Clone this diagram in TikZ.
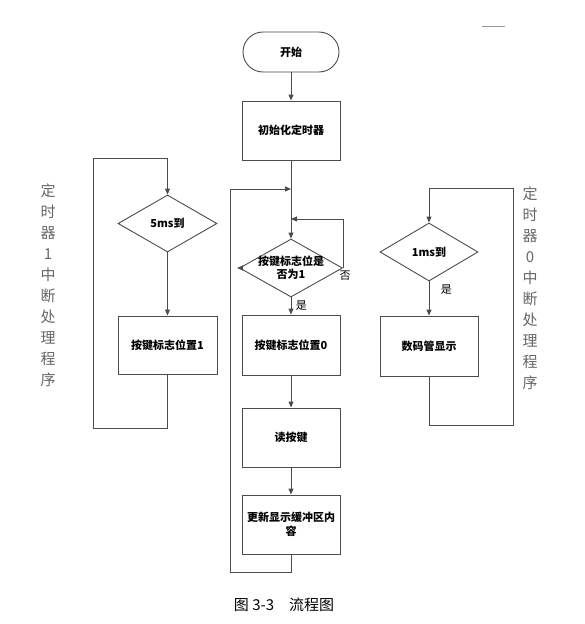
\documentclass[tikz,border=0pt]{standalone}
\usepackage{fontspec}
\setmainfont{Noto Sans CJK SC}
\usetikzlibrary{arrows.meta,shapes.geometric,shapes.misc}

\begin{document}
\begin{tikzpicture}[x=1pt,y=-1pt,
	flow/.style={draw=black!70,line width=0.9pt},
	arr/.style={flow,-{Triangle[length=6pt,width=5pt]}},
	box/.style={draw=black!70,line width=0.9pt,minimum width=98pt,minimum height=59pt,inner sep=1pt,align=center,font=\fontsize{11}{14}\selectfont\bfseries},
	dia/.style={diamond,draw=black!70,line width=0.9pt,minimum width=#1,minimum height=58pt,inner sep=0pt},
	side/.style={text=black!60,align=center,font=\fontsize{15}{21}\selectfont}]
		\useasboundingbox (0,0) rectangle (584,624);% size of the page
		\draw[black!40,line width=0.6pt] (482,26) -- (505,26);
		% main loop
		\node[box,rounded rectangle,minimum height=40pt] (start) at (291,52) {开始};
		\node[box] (init) at (291,130.5) {初始化定时器};
		\node[dia=103pt,label={[font=\fontsize{11}{13}\selectfont\bfseries,align=center]center:按键标志位是\\否为1}] (key) at (291,268) {};
		\node[box,minimum height=60pt] (clr) at (291,345) {按键标志位置0};
		\node[box] (read) at (291,437.5) {读按键};
		\node[box] (upd) at (291,524.5) {更新显示缓冲区内\\容};
		\coordinate (jloop) at (291,189);
		\coordinate (jwait) at (291,219);
		\coordinate (lbot) at (230,572);
		\coordinate (kout) at (237,268);
		\draw[arr] (start.south) -- (init.north);
		\draw[flow] (init.south) -- (jwait);
		\draw[arr] (jwait) -- (key.north);
		\draw[arr] (upd.south) |- (lbot) |- (jloop);
		\draw[arr] (key.east) |- (jwait);
		\draw[arr] (key.west) -- (kout);
		\draw[arr] (key.south) -- node[right=1pt,pos=0.45,font=\fontsize{11}{13}\selectfont] {是} (clr.north);
		\node[font=\fontsize{11}{13}\selectfont] (no) at (345,276) {否};
		\draw[arr] (clr) -- (read);
		\draw[arr] (read) -- (upd);
		% timer 1
		\node[dia=99pt,minimum height=57pt,label={[font=\fontsize{11}{13}\selectfont\bfseries]center:5ms到}] (t5) at (167.5,223.5) {};
		\node[box,minimum width=99pt,minimum height=58pt] (set) at (167.5,345) {按键标志位置1};
		\coordinate (ll) at (93,428);
		\coordinate (lt) at (93,158);
		\draw[arr] (t5.south) -- (set.north);
		\draw[arr] (set.south) |- (ll) -- (lt) -| (t5.north);
		% timer 0
		\node[dia=98pt,label={[font=\fontsize{11}{13}\selectfont\bfseries]center:1ms到}] (t1) at (429,252) {};
		\node[box,minimum height=60pt] (disp) at (429,346) {数码管显示};
		\coordinate (rl) at (513,425);
		\coordinate (rt) at (513,188);
		\draw[arr] (t1.south) -- node[right=8pt,pos=0.25,font=\fontsize{11}{13}\selectfont] {是} (disp.north);
		\draw[arr] (disp.south) |- (rl) -- (rt) -| (t1.north);
		% side texts
		\node[side] (lab1) at (48,285) {定\\时\\器\\1\\中\\断\\处\\理\\程\\序};
		\node[side] (lab0) at (530,288) {定\\时\\器\\0\\中\\断\\处\\理\\程\\序};
		\node[font=\fontsize{15}{18}\selectfont] (cap) at (284,605) {图 3-3\quad 流程图};
	\end{tikzpicture}
\end{document}
